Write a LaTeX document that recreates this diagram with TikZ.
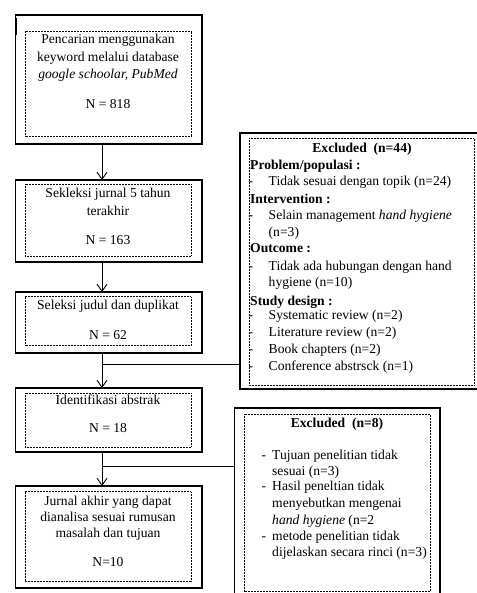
\documentclass[tikz,border=0pt]{standalone}
\usepackage{fontspec}
\setmainfont{Liberation Serif}
\usetikzlibrary{arrows.meta}
\begin{document}
\begin{tikzpicture}[x=1pt,y=-1pt,
  box/.style={draw, line width=1.1pt, rectangle, inner sep=0pt, outer sep=0pt},
  inbox/.style={draw, line width=0.7pt, dash pattern=on 0.7pt off 0.8pt},
  txt/.style={inner sep=0pt, anchor=base, font=\fontsize{13.6}{16.7}\selectfont},
  ltxt/.style={txt, anchor=base west},
  htxt/.style={ltxt, font=\fontsize{13.6}{16.7}\selectfont\bfseries},
  ttxt/.style={txt, font=\fontsize{13.6}{16.7}\selectfont\bfseries},
  conn/.style={line width=0.9pt},
  arr/.style={conn, -{Straight Barb[length=7pt,width=10pt,line width=0.9pt]}}]
\useasboundingbox (0,0) rectangle (476,593);

% left boxes
\node[box, minimum width=186.5pt, minimum height=129pt] (b1) at (108.75,79.5) {};
\node[box, minimum width=186.5pt, minimum height=82pt] (b2) at (108.75,221) {};
\node[box, minimum width=186.5pt, minimum height=61pt] (b3) at (108.75,322.5) {};
\node[box, minimum width=186.5pt, minimum height=64pt] (b4) at (108.75,420) {};
\node[box, minimum width=186.5pt, minimum height=102pt] (b5) at (108.75,537) {};
\draw[line width=1.3pt] (16.8,18) -- (16.8,35);

\draw[inbox] (25,31) rectangle (191.5,136.7);
\draw[inbox] (25,184.3) rectangle (191,256);
\draw[inbox] (25,296.7) rectangle (191,345.5);
\draw[inbox] (25,393.3) rectangle (191,447);
\draw[inbox] (25,491.7) rectangle (191,581.7);

% excluded boxes
\node[box, minimum width=238pt, minimum height=256pt] (e1) at (359,261) {};
\node[box, minimum width=205.5pt, minimum height=189pt] (e2) at (337.25,502.5) {};
\draw[inbox] (249,138.5) rectangle (474,385);
\draw[inbox] (244,414) rectangle (430,591.7);

% left texts
\node[txt] (t1a) at (108,44) {Pencarian menggunakan};
\node[txt] (t1b) at (108,61.5) {keyword melalui database};
\node[txt] (t1c) at (108,78.5) {\textit{google schoolar, PubMed}};
\node[txt] (t1n) at (108,109) {N = 818};
\node[txt] (t2a) at (108,197.7) {Sekleksi jurnal 5 tahun};
\node[txt] (t2b) at (108,215.7) {terakhir};
\node[txt] (t2n) at (108,244.3) {N = 163};
\node[txt] (t3a) at (108,309.3) {Seleksi judul dan duplikat};
\node[txt] (t3n) at (108,339.3) {N = 62};
\node[txt] (t4a) at (108,404.3) {Identifikasi abstrak};
\node[txt] (t4n) at (108,432.7) {N = 18};
\node[txt] (t5a) at (108,505) {Jurnal akhir yang dapat};
\node[txt] (t5b) at (108,521.7) {dianalisa sesuai rumusan};
\node[txt] (t5c) at (108,537.5) {masalah dan tujuan};
\node[txt] (t5n) at (108,566.7) {N=10};

% excluded 1 texts
\node[ttxt] (e1t) at (362,152.3) {Excluded\ \ (n=44)};
\node[htxt] (h1) at (250,169.5) {Problem/populasi :};
\node[ltxt] (d1) at (248.5,186) {-};
\node[ltxt] (i1) at (268.5,186) {Tidak sesuai dengan topik (n=24)};
\node[htxt] (h2) at (250,203.3) {Intervention :};
\node[ltxt] (d2) at (248.5,220) {-};
\node[ltxt] (i2) at (268.5,220) {Selain management \textit{hand hygiene}};
\node[ltxt] (i2b) at (268.5,236.3) {(n=3)};
\node[htxt] (h3) at (250,252.7) {Outcome :};
\node[ltxt] (d3) at (248.5,270) {-};
\node[ltxt] (i3) at (268.5,270) {Tidak ada hubungan dengan hand};
\node[ltxt] (i3b) at (268.5,286.3) {hygiene (n=10)};
\node[htxt] (h4) at (250,305) {Study design :};
\node[ltxt] (d4) at (248.5,319.3) {-};
\node[ltxt] (i4) at (268.5,319.3) {Systematic review (n=2)};
\node[ltxt] (d5) at (248.5,336) {-};
\node[ltxt] (i5) at (268.5,336) {Literature review (n=2)};
\node[ltxt] (d6) at (248.5,353.3) {-};
\node[ltxt] (i6) at (268.5,353.3) {Book chapters (n=2)};
\node[ltxt] (d7) at (248.5,370.7) {-};
\node[ltxt] (i7) at (268.5,370.7) {Conference abstrsck (n=1)};

% excluded 2 texts
\node[ttxt] (e2t) at (337,427.3) {Excluded\ \ (n=8)};
\node[ltxt] (f1) at (261.5,459) {-};
\node[ltxt] (g1) at (272,459) {Tujuan penelitian tidak};
\node[ltxt] (g1b) at (272,475) {sesuai (n=3)};
\node[ltxt] (f2) at (261.5,490.7) {-};
\node[ltxt] (g2) at (272,490.7) {Hasil peneltian tidak};
\node[ltxt] (g2b) at (272,507.3) {menyebutkan mengenai};
\node[ltxt] (g2c) at (272,524) {\textit{hand hygiene} (n=2};
\node[ltxt] (f3) at (261.5,540) {-};
\node[ltxt] (g3) at (272,540) {metode penelitian tidak};
\node[ltxt] (g3b) at (272,556.7) {dijelaskan secara rinci (n=3)};

% connectors
\coordinate (ax) at (102,0);
\coordinate (j1) at (102,364);
\coordinate (j2) at (102,466);
\draw[arr] (b1.south -| ax) -- (b2.north -| ax);
\draw[arr] (b2.south -| ax) -- (b3.north -| ax);
\draw[arr] (b3.south -| ax) -- (b4.north -| ax);
\draw[arr] (b4.south -| ax) -- (b5.north -| ax);
\draw[conn] (j1) -- (j1 -| e1.west);
\draw[conn] (j2) -- (j2 -| e2.west);
\end{tikzpicture}
\end{document}
